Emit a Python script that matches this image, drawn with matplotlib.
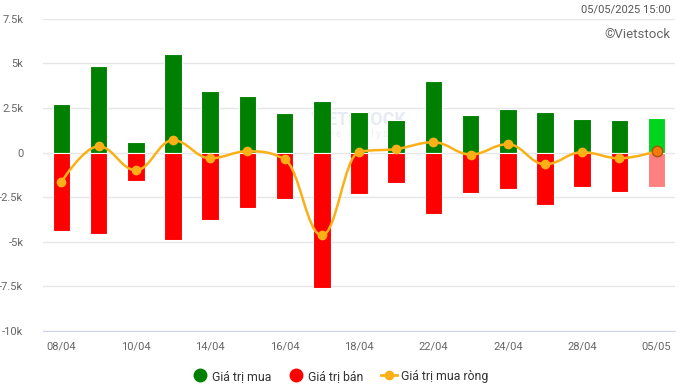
import matplotlib
matplotlib.use("Agg")
import matplotlib.pyplot as plt
import numpy as np
from matplotlib.path import Path
from matplotlib.patches import PathPatch
from matplotlib.lines import Line2D
from matplotlib.ticker import FuncFormatter

plt.rcParams["font.family"] = ["Roboto", "DejaVu Sans"]

# data (billion VND)
dates = ["08/04", "09/04", "10/04", "11/04", "14/04", "15/04", "16/04", "17/04", "18/04",
         "21/04", "22/04", "23/04", "24/04", "25/04", "28/04", "29/04", "05/05"]
buy = [2710, 4850, 580, 5520, 3440, 3160, 2210, 2880, 2260,
       1810, 4000, 2100, 2430, 2260, 1870, 1810, 1930]
sell = [-4420, -4570, -1610, -4930, -3800, -3130, -2620, -7600, -2340,
        -1710, -3470, -2290, -2060, -2960, -1950, -2230, -1950]
net = [-1650, 350, -990, 690, -320, 70, -380, -4650, 30,
       200, 580, -110, 470, -660, 20, -320, 70]
shown_ticks = ["08/04", "10/04", "14/04", "16/04", "18/04", "22/04", "24/04", "28/04", "05/05"]

GREEN, RED = "#008000", "#ff0000"
GREEN_LAST, RED_LAST = "#00d41e", "#ff8080"
ORANGE = "#fbb017"


def spline_path(xs, ys, smoothing=1.5):
    # highcharts style spline control points
    n = len(xs)
    left = [(xs[i], ys[i]) for i in range(n)]
    right = [(xs[i], ys[i]) for i in range(n)]
    denom = smoothing + 1
    for i in range(1, n - 1):
        px, py = xs[i], ys[i]
        lx, ly = xs[i - 1], ys[i - 1]
        nx, ny = xs[i + 1], ys[i + 1]
        lcx = (smoothing * px + lx) / denom
        lcy = (smoothing * py + ly) / denom
        rcx = (smoothing * px + nx) / denom
        rcy = (smoothing * py + ny) / denom
        if rcx != lcx:
            corr = (rcy - lcy) * (rcx - px) / (rcx - lcx) + py - rcy
            lcy += corr
            rcy += corr
        if lcy > ly and lcy > py:
            lcy = max(ly, py)
            rcy = 2 * py - lcy
        elif lcy < ly and lcy < py:
            lcy = min(ly, py)
            rcy = 2 * py - lcy
        if rcy > ny and rcy > py:
            rcy = max(ny, py)
            lcy = 2 * py - rcy
        elif rcy < ny and rcy < py:
            rcy = min(ny, py)
            lcy = 2 * py - rcy
        left[i] = (lcx, lcy)
        right[i] = (rcx, rcy)
    verts = [(xs[0], ys[0])]
    codes = [Path.MOVETO]
    for i in range(1, n):
        verts += [right[i - 1], left[i], (xs[i], ys[i])]
        codes += [Path.CURVE4] * 3
    return Path(verts, codes)


fig = plt.figure(figsize=(6.8, 3.87), dpi=100)
ax = fig.add_axes([0.063, 0.1455, 0.93, 0.8055])

x = np.arange(len(dates))
buy_colors = [GREEN] * (len(x) - 1) + [GREEN_LAST]
sell_colors = [RED] * (len(x) - 1) + [RED_LAST]
ax.bar(x, buy, width=0.47, color=buy_colors, edgecolor="white", linewidth=0.8, zorder=3)
ax.bar(x, sell, width=0.47, color=sell_colors, edgecolor="white", linewidth=0.8, zorder=3)

# net line (smooth)
ax.add_patch(PathPatch(spline_path(list(x), net), facecolor="none", edgecolor=ORANGE,
                       linewidth=1.8, zorder=4))
ax.plot(x[:-1], net[:-1], "o", color=ORANGE, markersize=6, zorder=5)
ax.plot(x[-1:], net[-1:], "o", color="#f47a0c", markeredgecolor="#a9540d",
        markeredgewidth=1, markersize=7.5, zorder=5)

# watermark
ax.text(0.5, 0.676, "VIETSTOCK", transform=ax.transAxes, ha="center", va="center",
        fontsize=13, fontweight="bold", color="#e6ecf2", zorder=1)
ax.text(0.5, 0.632, "f r e e   a n a l y s i s", transform=ax.transAxes, ha="center",
        va="center", fontsize=7, color="#e9eef3", zorder=1)

ax.set_xlim(-0.5, len(x) - 0.5)
ax.set_ylim(-10000, 7500)
ax.set_yticks(np.arange(-10000, 7501, 2500))
ax.yaxis.set_major_formatter(FuncFormatter(
    lambda v, p: "0" if v == 0 else f"{v / 1000:g}k"))
ax.set_xticks([dates.index(d) for d in shown_ticks])
ax.set_xticklabels(shown_ticks)

ax.grid(axis="y", color="#e6e6e6", linewidth=1, zorder=0)
ax.set_axisbelow(True)
for s in ["top", "right", "left"]:
    ax.spines[s].set_visible(False)
ax.spines["bottom"].set_color("#ccd6eb")
ax.spines["bottom"].set_zorder(0)
ax.tick_params(axis="y", length=0, pad=14, labelsize=8, labelcolor="#666666")
ax.tick_params(axis="x", length=0, pad=8, labelsize=8, labelcolor="#666666")

fig.text(0.986, 0.975, "05/05/2025 15:00", ha="right", va="center", fontsize=8, color="#555555")
fig.text(0.986, 0.912, "\u00a9Vietstock", ha="right", va="center", fontsize=9.5, color="#666666")

handles = [
    Line2D([], [], marker="o", linestyle="none", color=GREEN, markersize=9),
    Line2D([], [], marker="o", linestyle="none", color=RED, markersize=9),
    Line2D([], [], marker="o", linestyle="-", color=ORANGE, markersize=6, linewidth=2),
]
fig.legend(handles, ["Giá trị mua", "Giá trị bán", "Giá trị mua ròng"], loc="center",
           bbox_to_anchor=(0.5, 0.028), ncol=3, frameon=False, fontsize=8.8,
           handlelength=1.3, handletextpad=0.35, columnspacing=1.4, labelcolor="#333333")

fig.savefig("out.png", dpi=100)
